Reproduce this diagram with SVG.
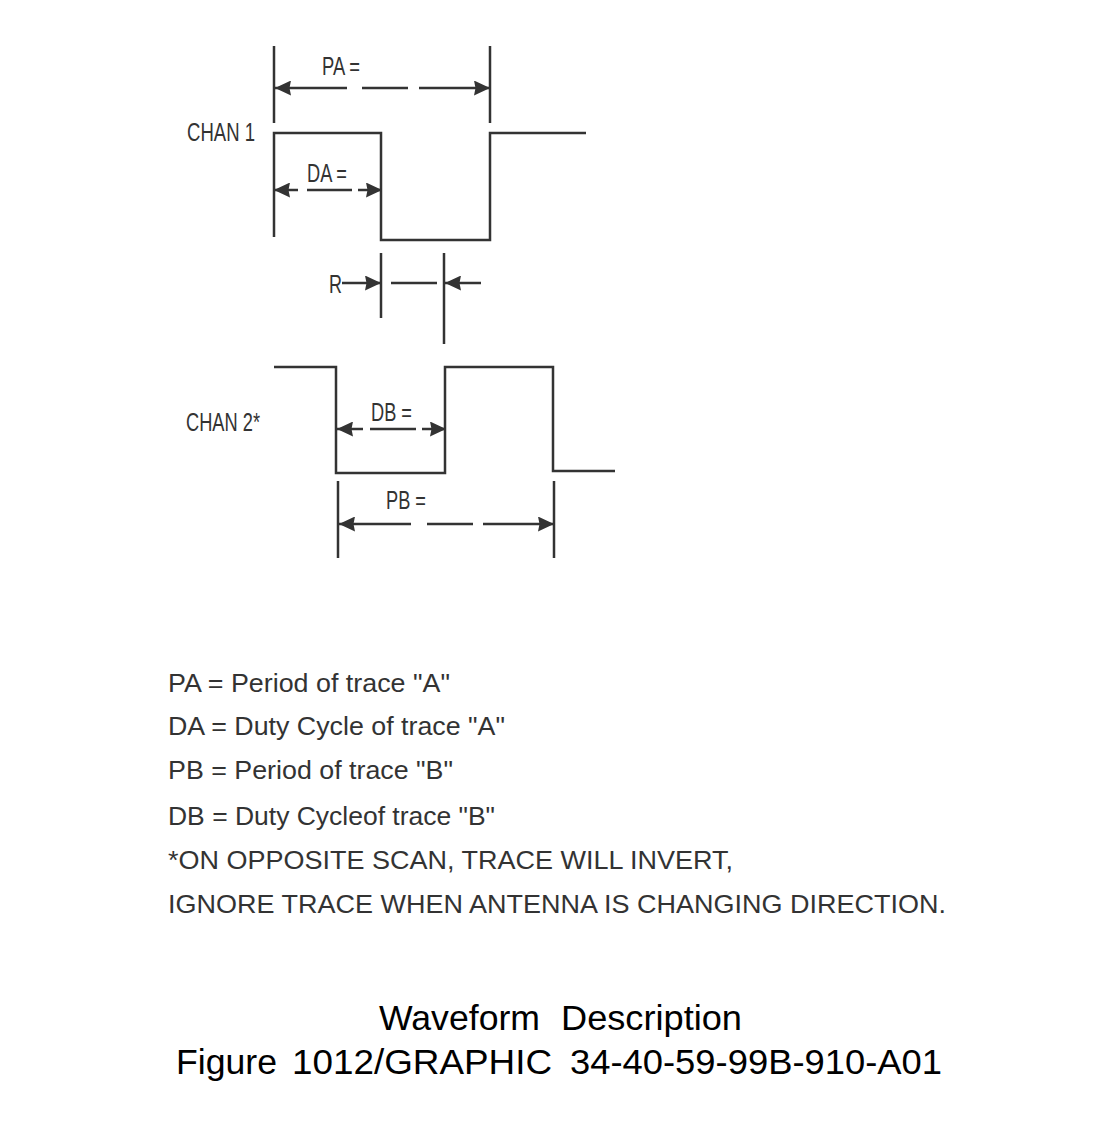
<svg xmlns="http://www.w3.org/2000/svg" width="1120" height="1136" viewBox="0 0 1120 1136">
<defs>
<style>
.ln{stroke:#333;stroke-width:2.5;fill:none;stroke-linecap:butt;stroke-linejoin:miter}
.lbl{font-family:"Liberation Sans",Arial,sans-serif;font-size:25px;fill:#333}
.leg{font-family:"Liberation Sans",Arial,sans-serif;font-size:26px;fill:#333}
.ttl{font-family:"Liberation Sans",Arial,sans-serif;font-size:35px;fill:#000}
</style>
<marker id="ah" viewBox="0 0 16 15" markerWidth="16" markerHeight="15" refX="16" refY="7.5" orient="auto-start-reverse" markerUnits="userSpaceOnUse">
<path d="M0,0 L16,7.5 L0,15 L1.5,7.5 Z" fill="#333"/>
</marker>
</defs>
<rect width="1120" height="1136" fill="#fff"/>

<g id="chan1">
<text class="lbl" x="187" y="141" textLength="68" lengthAdjust="spacingAndGlyphs">CHAN 1</text>
<path class="ln" d="M274,237 L274,133 L381,133 L381,240 L490,240 L490,133 L586,133"/>
</g>

<g id="chan2">
<text class="lbl" x="186" y="431" textLength="74" lengthAdjust="spacingAndGlyphs">CHAN 2*</text>
<path class="ln" d="M274,367 L336,367 L336,473 L445,473 L445,367 L553,367 L553,471 L615,471"/>
</g>

<g id="labels">
<text class="lbl" x="322" y="75" textLength="38" lengthAdjust="spacingAndGlyphs">PA =</text>
<text class="lbl" x="307" y="182" textLength="40" lengthAdjust="spacingAndGlyphs">DA =</text>
<text class="lbl" x="329" y="293" textLength="13" lengthAdjust="spacingAndGlyphs">R</text>
<text class="lbl" x="371" y="421" textLength="41" lengthAdjust="spacingAndGlyphs">DB =</text>
<text class="lbl" x="386" y="509" textLength="40" lengthAdjust="spacingAndGlyphs">PB =</text>
</g>

<g id="connectors">
<line class="ln" x1="274" y1="46" x2="274" y2="123"/>
<line class="ln" x1="490" y1="46" x2="490" y2="123"/>
<line class="ln" x1="381" y1="253" x2="381" y2="318"/>
<line class="ln" x1="444" y1="253" x2="444" y2="344"/>
<line class="ln" x1="338" y1="481" x2="338" y2="558"/>
<line class="ln" x1="554" y1="481" x2="554" y2="558"/>
<line class="ln" x1="347" y1="88" x2="275" y2="88" marker-end="url(#ah)"/>
<line class="ln" x1="362" y1="88" x2="408" y2="88"/>
<line class="ln" x1="419" y1="88" x2="490" y2="88" marker-end="url(#ah)"/>
<line class="ln" x1="298" y1="190" x2="274" y2="190" marker-end="url(#ah)"/>
<line class="ln" x1="307" y1="190" x2="352" y2="190"/>
<line class="ln" x1="358" y1="190" x2="382" y2="190" marker-end="url(#ah)"/>
<line class="ln" x1="342" y1="283" x2="381" y2="283" marker-end="url(#ah)"/>
<line class="ln" x1="391" y1="283" x2="437" y2="283"/>
<line class="ln" x1="481" y1="283" x2="445" y2="283" marker-end="url(#ah)"/>
<line class="ln" x1="363" y1="429" x2="337" y2="429" marker-end="url(#ah)"/>
<line class="ln" x1="370" y1="429" x2="416" y2="429"/>
<line class="ln" x1="422" y1="429" x2="446" y2="429" marker-end="url(#ah)"/>
<line class="ln" x1="411" y1="524" x2="339" y2="524" marker-end="url(#ah)"/>
<line class="ln" x1="427" y1="524" x2="473" y2="524"/>
<line class="ln" x1="483" y1="524" x2="554" y2="524" marker-end="url(#ah)"/>
</g>

<g id="legend">
<text class="leg" x="168" y="692" textLength="282" lengthAdjust="spacingAndGlyphs">PA = Period of trace "A"</text>
<text class="leg" x="168" y="735" textLength="337" lengthAdjust="spacingAndGlyphs">DA = Duty Cycle of trace "A"</text>
<text class="leg" x="168" y="779" textLength="285" lengthAdjust="spacingAndGlyphs">PB = Period of trace "B"</text>
<text class="leg" x="168" y="825" textLength="327" lengthAdjust="spacingAndGlyphs">DB = Duty Cycleof trace "B"</text>
<text class="leg" x="168" y="869" textLength="565" lengthAdjust="spacingAndGlyphs">*ON OPPOSITE SCAN, TRACE WILL INVERT,</text>
<text class="leg" x="168" y="913" textLength="778" lengthAdjust="spacingAndGlyphs">IGNORE TRACE WHEN ANTENNA IS CHANGING DIRECTION.</text>
</g>

<g id="title">
<text class="ttl" x="379" y="1030" textLength="161" lengthAdjust="spacingAndGlyphs">Waveform</text>
<text class="ttl" x="561" y="1030" textLength="181" lengthAdjust="spacingAndGlyphs">Description</text>
<text class="ttl" x="176" y="1074" textLength="101" lengthAdjust="spacingAndGlyphs">Figure</text>
<text class="ttl" x="292" y="1074" textLength="260" lengthAdjust="spacingAndGlyphs">1012/GRAPHIC</text>
<text class="ttl" x="570" y="1074" textLength="372" lengthAdjust="spacingAndGlyphs">34-40-59-99B-910-A01</text>
</g>
</svg>
